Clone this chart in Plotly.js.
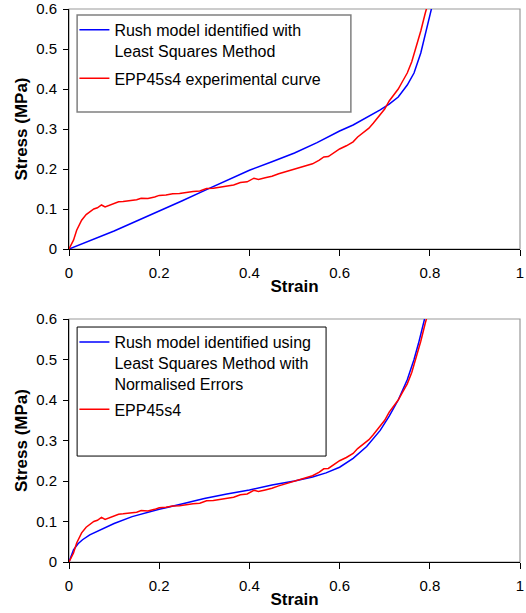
<!DOCTYPE html>
<html>
<head>
<meta charset="utf-8">
<script src="https://cdn.plot.ly/plotly-3.0.1.min.js"></script>
<style>html,body{margin:0;padding:0;background:#fff;}#chart{width:526px;height:613px;}</style>
</head>
<body>
<div id="chart"></div>
<script>
// Experimental curve EPP45s4 (same in both panels)
var expStrain = [0, 0.005, 0.01, 0.017, 0.028, 0.038, 0.046, 0.055, 0.063, 0.072, 0.08, 0.09, 0.1, 0.11, 0.12, 0.135, 0.15, 0.16, 0.175, 0.19, 0.2, 0.215, 0.23, 0.245, 0.26, 0.275, 0.29, 0.305, 0.32, 0.335, 0.35, 0.365, 0.38, 0.395, 0.41, 0.42, 0.435, 0.45, 0.465, 0.48, 0.495, 0.51, 0.525, 0.54, 0.555, 0.565, 0.575, 0.59, 0.6, 0.615, 0.63, 0.64, 0.65, 0.665, 0.675, 0.69, 0.7, 0.71, 0.72, 0.73, 0.74, 0.75, 0.76, 0.77, 0.78, 0.79, 0.795];
var expStress = [0, 0.01, 0.022, 0.047, 0.072, 0.086, 0.093, 0.1, 0.103, 0.11, 0.105, 0.109, 0.113, 0.118, 0.119, 0.121, 0.123, 0.127, 0.126, 0.13, 0.134, 0.135, 0.138, 0.139, 0.142, 0.144, 0.145, 0.151, 0.152, 0.155, 0.158, 0.16, 0.166, 0.168, 0.177, 0.174, 0.178, 0.182, 0.188, 0.193, 0.198, 0.204, 0.208, 0.213, 0.222, 0.23, 0.231, 0.242, 0.25, 0.258, 0.268, 0.28, 0.288, 0.302, 0.315, 0.335, 0.35, 0.37, 0.385, 0.4, 0.42, 0.44, 0.468, 0.505, 0.545, 0.59, 0.61];

// Rush model, Least Squares Method (top panel)
var lsStrain = [0, 0.05, 0.1, 0.15, 0.2, 0.25, 0.3, 0.35, 0.4, 0.45, 0.5, 0.55, 0.6, 0.63, 0.66, 0.69, 0.71, 0.73, 0.75, 0.765, 0.78, 0.79, 0.8, 0.81];
var lsStress = [0, 0.022, 0.045, 0.07, 0.094, 0.12, 0.146, 0.172, 0.197, 0.218, 0.24, 0.266, 0.295, 0.31, 0.328, 0.348, 0.362, 0.38, 0.41, 0.44, 0.49, 0.535, 0.585, 0.63];

// Rush model, Least Squares Method with Normalised Errors (bottom panel)
var neStrain = [0, 0.005, 0.01, 0.02, 0.03, 0.046, 0.07, 0.1, 0.14, 0.2, 0.25, 0.3, 0.35, 0.4, 0.45, 0.5, 0.54, 0.57, 0.6, 0.63, 0.66, 0.69, 0.71, 0.73, 0.75, 0.765, 0.775, 0.785, 0.795];
var neStress = [0, 0.018, 0.03, 0.045, 0.055, 0.067, 0.079, 0.095, 0.112, 0.13, 0.143, 0.157, 0.168, 0.178, 0.19, 0.2, 0.21, 0.22, 0.234, 0.256, 0.285, 0.325, 0.36, 0.4, 0.45, 0.5, 0.54, 0.585, 0.63];

var xTicks = [0, 0.2, 0.4, 0.6, 0.8, 1];
var xTickText = ['0', '0.2', '0.4', '0.6', '0.8', '1'];
var yTicks = [0, 0.1, 0.2, 0.3, 0.4, 0.5, 0.6];
var yTickText = ['0', '0.1', '0.2', '0.3', '0.4', '0.5', '0.6'];

var names = {
  ls: 'Rush model identified with<br>Least Squares Method',
  exp1: 'EPP45s4 experimental curve',
  ne: 'Rush model identified using<br>Least Squares Method with<br>Normalised Errors',
  exp2: 'EPP45s4'
};

var FONT = 'Liberation Sans, Arial, sans-serif';

var traces = [
  {x: lsStrain, y: lsStress, name: names.ls, mode: 'lines', line: {color: '#0000ff', width: 1.5}, xaxis: 'x', yaxis: 'y', legend: 'legend', legendgroup: 'a'},
  {x: expStrain, y: expStress, name: names.exp1, mode: 'lines', line: {color: '#ff0000', width: 1.5}, xaxis: 'x', yaxis: 'y', legend: 'legend', legendgroup: 'b'},
  {x: neStrain, y: neStress, name: names.ne, mode: 'lines', line: {color: '#0000ff', width: 1.5}, xaxis: 'x2', yaxis: 'y2', legend: 'legend2', legendgroup: 'c'},
  {x: expStrain, y: expStress, name: names.exp2, mode: 'lines', line: {color: '#ff0000', width: 1.5}, xaxis: 'x2', yaxis: 'y2', legend: 'legend2', legendgroup: 'd'}
];

function xAxis(anchor) {
  return {
    anchor: anchor, domain: [0, 1], range: [0, 1], tickvals: xTicks, ticktext: xTickText,
    showgrid: false, zeroline: false, showline: true, linecolor: '#000', linewidth: 1,
    ticks: 'outside', ticklen: 6, tickcolor: '#000', ticklabelstandoff: 4,
    tickfont: {family: FONT, size: 15, color: '#000'}, ticklabeloverflow: 'allow',
    title: {text: '<b>Strain</b>', font: {family: FONT, size: 17, color: '#000'}, standoff: 0},
    fixedrange: true
  };
}
function yAxis(anchor, domain) {
  return {
    anchor: anchor, domain: domain, range: [0, 0.6], tickvals: yTicks, ticktext: yTickText,
    showgrid: false, zeroline: false, showline: true, linecolor: '#000', linewidth: 1,
    ticks: 'outside', ticklen: 5, tickcolor: '#000', ticklabelstandoff: 3,
    tickfont: {family: FONT, size: 15, color: '#000'}, ticklabeloverflow: 'allow',
    title: {text: '<b>Stress (MPa)</b>', font: {family: FONT, size: 17, color: '#000'}, standoff: 4},
    fixedrange: true
  };
}

var legendCommon = {
  font: {family: FONT, size: 16, color: '#000'}, bgcolor: 'rgba(0,0,0,0)', borderwidth: 0,
  xanchor: 'left', yanchor: 'top', traceorder: 'grouped', itemwidth: 30, valign: 'top'
};

var layout = {
  width: 526, height: 613,
  margin: {l: 69, r: 6, t: 9, b: 51},
  paper_bgcolor: '#fff', plot_bgcolor: '#fff',
  font: {family: FONT, color: '#000'},
  showlegend: true,
  xaxis: xAxis('y'),
  yaxis: yAxis('x', [0.566, 1]),
  xaxis2: xAxis('y2'),
  yaxis2: yAxis('x2', [0, 0.4394]),
  legend: Object.assign({}, legendCommon, {x: 0.012, y: 0.993, tracegroupgap: 4}),
  legend2: Object.assign({}, legendCommon, {x: 0.012, y: 0.4286, tracegroupgap: 2}),
  shapes: [
    // gray frame (top & right) of each plot
    {type: 'rect', xref: 'x domain', yref: 'y domain', x0: 0, x1: 1, y0: 0, y1: 1, line: {color: '#999', width: 1.2}, layer: 'below'},
    {type: 'rect', xref: 'x2 domain', yref: 'y2 domain', x0: 0, x1: 1, y0: 0, y1: 1, line: {color: '#999', width: 1.2}, layer: 'below'},
    // legend boxes
    {type: 'rect', xref: 'x domain', yref: 'y domain', x0: 0.018, x1: 0.625, y0: 0.571, y1: 0.975, line: {color: '#808080', width: 1.5}},
    {type: 'rect', xref: 'x2 domain', yref: 'y2 domain', x0: 0.018, x1: 0.57, y0: 0.436, y1: 0.967, line: {color: '#000', width: 1}}
  ]
};

Plotly.newPlot('chart', traces, layout, {staticPlot: true, displayModeBar: false});
</script>
</body>
</html>
